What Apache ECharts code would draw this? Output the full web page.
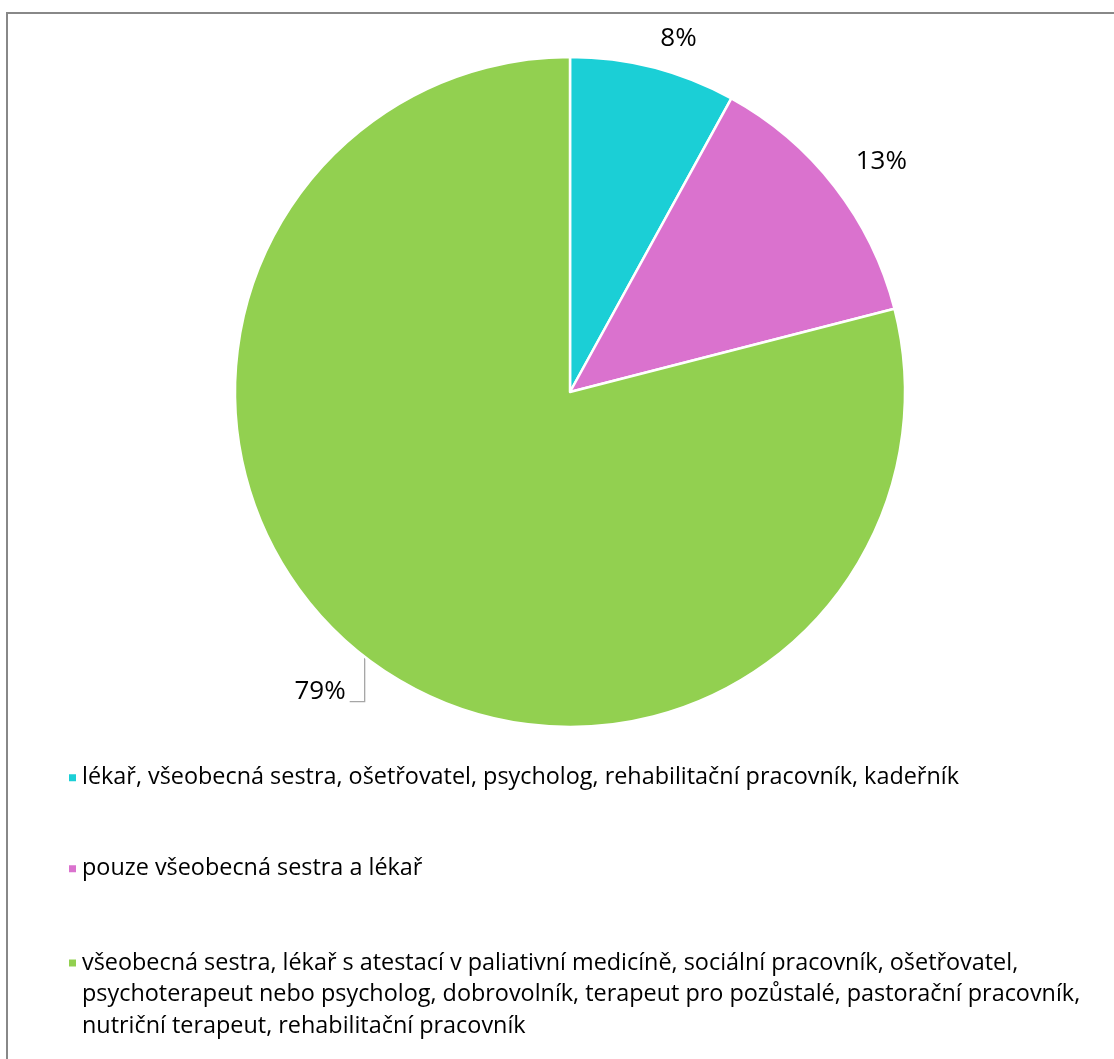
<!DOCTYPE html>
<html>
<head>
<meta charset="utf-8">
<script src="https://cdn.jsdelivr.net/npm/echarts@6/dist/echarts.min.js"></script>
<style>
  html, body { margin: 0; padding: 0; background: #fff; }
  #chart { width: 1114px; height: 1059px; }
</style>
</head>
<body>
<div id="chart"></div>
<script>
// Složení týmu – podíl odpovědí (%)
const categories = [
  'lékař, všeobecná sestra, ošetřovatel, psycholog, rehabilitační pracovník, kadeřník',
  'pouze všeobecná sestra a lékař',
  'všeobecná sestra, lékař s atestací v paliativní medicíně, sociální pracovník, ošetřovatel, psychoterapeut nebo psycholog, dobrovolník, terapeut pro pozůstalé, pastorační pracovník, nutriční terapeut, rehabilitační pracovník'
];
const shares = [8, 13, 79];
const colors = ['#1BCFD6', '#DA72CE', '#92D050'];

const FONT = '"Open Sans"';
const LEGEND_SIZE = 23.4;
const LINE_H = 31.5;
const WRAP_W = 1040;

// word wrap measured with the same font the legend uses
const measureCtx = document.createElement('canvas').getContext('2d');
function wrapWords(text, width) {
  measureCtx.font = LEGEND_SIZE + 'px ' + FONT;
  const words = text.split(' ');
  const lines = [];
  let cur = '';
  words.forEach(w => {
    const probe = cur ? cur + ' ' + w : w;
    if (cur && measureCtx.measureText(probe).width > width) {
      lines.push(cur);
      cur = w;
    } else {
      cur = probe;
    }
  });
  if (cur) lines.push(cur);
  return lines;
}

// a spacer row above multi-line entries keeps the marker level with the first line
function legendText(name) {
  const lines = wrapWords(name, WRAP_W);
  const body = lines.map(l => '{t|' + l + '}').join('\n');
  return lines.length > 1 ? '{s| }\n' + body : body;
}

const chart = echarts.init(document.getElementById('chart'), null, { renderer: 'canvas' });

const markerRows = [776, 867, 957];
const legends = categories.map((name, i) => {
  const n = wrapWords(name, WRAP_W).length;
  const spacer = (n - 1) * LINE_H;
  return {
    data: [name],
    orient: 'vertical',
    left: 67,
    top: markerRows[i] - (2 * n - 1) * LINE_H / 2 + 6,
    padding: 0,
    icon: 'rect',
    itemWidth: 9,
    itemHeight: 9,
    selectedMode: false,
    formatter: legendText,
    textStyle: {
      color: '#000',
      fontFamily: FONT,
      fontSize: LEGEND_SIZE,
      rich: {
        t: { color: '#000', fontFamily: FONT, fontSize: LEGEND_SIZE, lineHeight: LINE_H },
        s: { fontSize: 1, lineHeight: spacer || 1, height: spacer || 1 }
      }
    }
  };
});

chart.setOption({
  animation: false,
  color: colors,
  graphic: [{
    type: 'rect',
    shape: { x: 7, y: 13, width: 1200, height: 1200 },
    style: { fill: 'none', stroke: '#888', lineWidth: 2 },
    silent: true
  }],
  legend: legends,
  series: [{
    type: 'pie',
    center: [570, 392],
    radius: 335,
    startAngle: 90,
    clockwise: true,
    avoidLabelOverlap: false,
    itemStyle: { borderColor: '#fff', borderWidth: 2.5 },
    label: {
      show: true,
      position: 'outside',
      formatter: '{d}%',
      color: '#000',
      fontFamily: FONT,
      fontSize: 26
    },
    labelLine: {
      show: true,
      length: 24,
      length2: 0,
      lineStyle: { color: '#a6a6a6', width: 1.3 }
    },
    labelLayout: function (params) {
      if (params.dataIndex === 0) return { dx: -4, dy: -6 };
      if (params.dataIndex === 1) return { dx: -3, dy: -10 };
      if (!params.labelLinePoints) return {};
      // large slice: short vertical drop then a horizontal tick into the label
      const p0 = params.labelLinePoints[0];
      const p1 = [p0[0], p0[1] + 45];
      const p2 = [p0[0] - 15, p1[1]];
      return {
        x: p2[0] - 4,
        y: p1[1] - 10,
        align: 'right',
        verticalAlign: 'middle',
        labelLinePoints: [p0, p1, p2]
      };
    },
    data: categories.map((name, i) => ({
      name: name,
      value: shares[i],
      labelLine: { show: i === 2 }
    }))
  }]
});
</script>
</body>
</html>
